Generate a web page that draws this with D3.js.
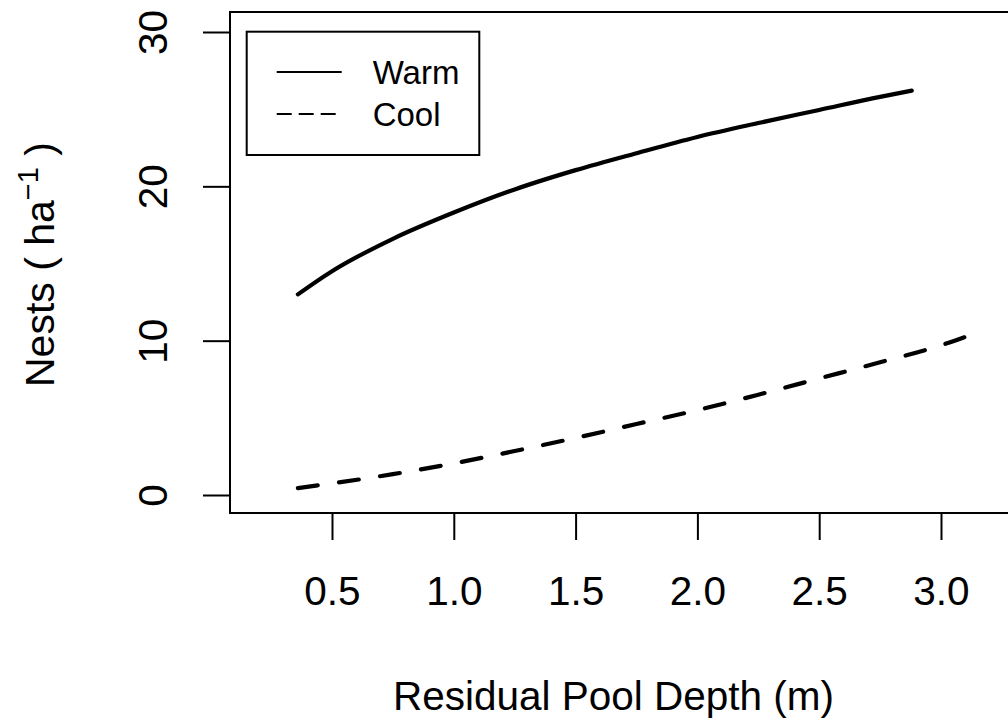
<!DOCTYPE html>
<html>
<head>
<meta charset="utf-8">
<script src="https://cdn.jsdelivr.net/npm/d3@7"></script>
<style>
  html, body { margin: 0; padding: 0; background: #fff; }
  svg { display: block; }
  text { font-family: "Liberation Sans", Arial, sans-serif; fill: #000; }
</style>
</head>
<body>
<svg id="chart" width="1008" height="725"></svg>
<script>
// Predicted nest density vs residual pool depth
const seriesNames = ["Warm", "Cool"];

const warmDepth = [0.36, 0.5, 0.75, 1.0, 1.25, 1.5, 1.75, 2.0, 2.25, 2.5, 2.75, 2.88];
const warmNests = [13.0, 14.5, 16.6, 18.3, 19.8, 21.05, 22.15, 23.2, 24.1, 24.95, 25.8, 26.2];

const coolDepth = [0.36, 0.5, 0.75, 1.0, 1.25, 1.5, 1.75, 2.0, 2.25, 2.5, 2.75, 3.0, 3.12];
const coolNests = [0.45, 0.75, 1.35, 2.05, 2.85, 3.7, 4.6, 5.5, 6.5, 7.55, 8.6, 9.7, 10.35];

const xTicks = [0.5, 1.0, 1.5, 2.0, 2.5, 3.0];
const yTicks = [0, 10, 20, 30];

const xTitle = "Residual Pool Depth (m)";

const svg = d3.select("#chart");

// plot region
const box = { left: 230, top: 12, bottom: 513, right: 1012 };

const x = d3.scaleLinear().domain([0.0813, 3.33]).range([box.left, box.left + (3.33 - 0.0813) * 243.6]);
const y = d3.scaleLinear().domain([0, 30]).range([495, 32]);

const series = [
  { name: seriesNames[0], pts: warmDepth.map((d, i) => [d, warmNests[i]]), dash: null },
  { name: seriesNames[1], pts: coolDepth.map((d, i) => [d, coolNests[i]]), dash: "20 21.5" }
];

const line = d3.line()
  .x(d => x(d[0]))
  .y(d => y(d[1]))
  .curve(d3.curveMonotoneX);

series.forEach(s => {
  svg.append("path")
    .attr("d", line(s.pts))
    .attr("fill", "none")
    .attr("stroke", "#000")
    .attr("stroke-width", 4.2)
    .attr("stroke-linecap", "round")
    .attr("stroke-linejoin", "round")
    .attr("stroke-dasharray", s.dash);
});

// frame
svg.append("rect")
  .attr("x", box.left).attr("y", box.top)
  .attr("width", box.right - box.left).attr("height", box.bottom - box.top)
  .attr("fill", "none").attr("stroke", "#000").attr("stroke-width", 2);

// x axis
const xAxis = svg.append("g")
  .attr("transform", `translate(0,${box.bottom})`)
  .call(d3.axisBottom(x).tickValues(xTicks).tickFormat(d3.format(".1f")).tickSize(27).tickSizeOuter(0));
xAxis.select(".domain").remove();
xAxis.selectAll(".tick line").attr("stroke", "#000").attr("stroke-width", 2);
xAxis.selectAll(".tick text")
  .attr("y", 92).attr("dy", 0)
  .attr("font-size", 40.5)
  .attr("font-family", "Liberation Sans, Arial, sans-serif")
  .attr("fill", "#000");

// y axis
const yAxis = svg.append("g")
  .attr("transform", `translate(${box.left},0)`)
  .call(d3.axisLeft(y).tickValues(yTicks).tickSize(27).tickSizeOuter(0));
yAxis.select(".domain").remove();
yAxis.selectAll(".tick line").attr("stroke", "#000").attr("stroke-width", 2);
yAxis.selectAll(".tick text")
  .attr("transform", "rotate(-90)")
  .attr("x", 0).attr("y", -63).attr("dy", 0)
  .attr("text-anchor", "middle")
  .attr("font-size", 40.5)
  .attr("font-family", "Liberation Sans, Arial, sans-serif")
  .attr("fill", "#000");

// axis titles
svg.append("text")
  .attr("x", (box.left + 997) / 2).attr("y", 710)
  .attr("text-anchor", "middle")
  .attr("font-size", 40.5)
  .text(xTitle);

const yTitle = svg.append("text")
  .attr("transform", `translate(54,${(box.top + box.bottom) / 2 + 2}) rotate(-90)`)
  .attr("text-anchor", "middle")
  .attr("font-size", 41);
yTitle.append("tspan").text("Nests ( ha");
yTitle.append("tspan").attr("font-size", 29).attr("dy", -16).text("\u22121");
yTitle.append("tspan").attr("dy", 16).text(" )");

// legend
const lg = svg.append("g");
lg.append("rect")
  .attr("x", 246.7).attr("y", 31.7).attr("width", 232.6).attr("height", 123.3)
  .attr("fill", "#fff").attr("stroke", "#000").attr("stroke-width", 2);
const legendDash = [null, "15 7"];
series.forEach((s, i) => {
  const ly = 72 + i * 42;
  lg.append("line")
    .attr("x1", 276.7).attr("x2", 341.7).attr("y1", ly).attr("y2", ly)
    .attr("stroke", "#000").attr("stroke-width", 2)
    .attr("stroke-dasharray", legendDash[i]);
  lg.append("text")
    .attr("x", 372.7).attr("y", ly + 11.5)
    .attr("font-size", 33)
    .text(s.name);
});
</script>
</body>
</html>
